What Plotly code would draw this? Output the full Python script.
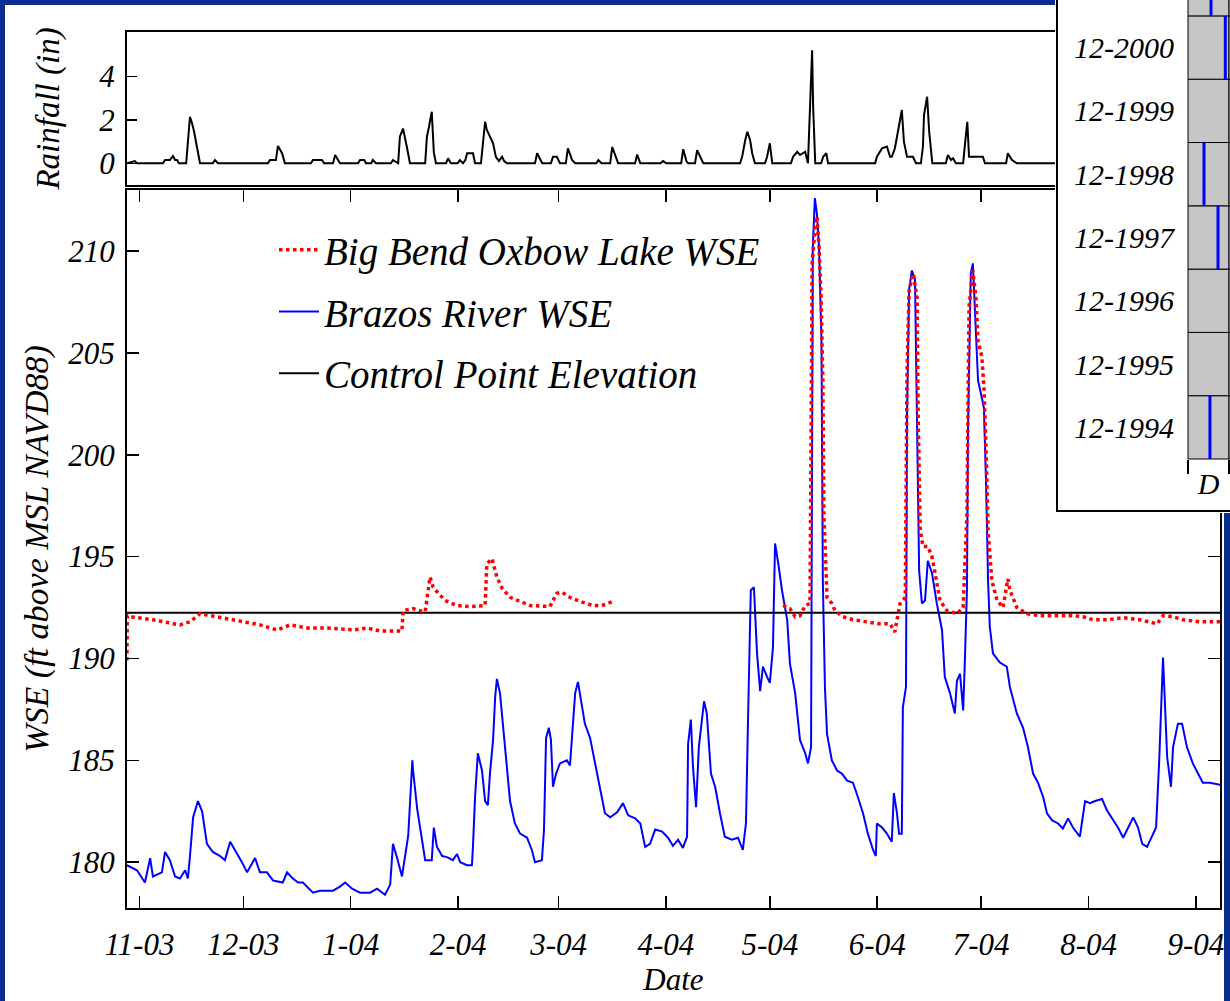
import pandas as pd
import plotly.graph_objects as go

# ---------------- data ----------------
START = pd.Timestamp("2003-11-01")
X_RANGE_DAYS = [-3.58, 311.95]          # visible window, days after START

TICK_DATES = ["2003-11-01", "2003-12-01", "2004-01-01", "2004-02-01", "2004-03-01",
              "2004-04-01", "2004-05-01", "2004-06-01", "2004-07-01", "2004-08-01",
              "2004-09-01"]
TICK_LABELS = ["11-03", "12-03", "1-04", "2-04", "3-04", "4-04", "5-04", "6-04",
               "7-04", "8-04", "9-04"]

BRAZOS_DAY = [-3.6, -0.7, 1.6, 3.1, 3.9, 6.5, 7.4, 8.8, 10.3, 11.7, 13.2, 14.0, 14.6, 15.5,
              16.9, 18.1, 19.5, 21.2, 23.3, 24.7, 26.2, 27.6, 29.6, 31.1, 33.4, 34.8, 36.8,
              38.6, 41.4, 42.6, 44.3, 45.8, 47.2, 50.1, 52.1, 55.9, 57.9, 59.4, 61.4, 63.7,
              66.6, 68.6, 70.9, 72.4, 73.2, 74.4, 75.8, 76.7, 77.6, 78.8, 79.0, 80.2, 81.3,
              82.5, 84.4, 85.0, 85.9, 87.4, 88.8, 90.5, 91.7, 92.6, 94.6, 96.0, 96.3, 96.9,
              97.7, 98.9, 99.8, 100.6, 101.2, 102.1, 102.7, 103.2, 104.1, 105.0, 106.1,
              107.0, 108.4, 109.9, 111.9, 113.3, 114.2, 116.2, 116.8, 117.4, 118.2, 118.8,
              119.4, 120.3, 121.4, 123.4, 124.3, 125.2, 125.8, 126.6, 127.8, 128.6, 130.1,
              131.5, 133.0, 134.4, 135.9, 137.9, 139.6, 141.1, 143.1, 144.6, 146.0, 147.4,
              148.9, 150.9, 152.6, 154.0, 155.5, 156.9, 158.1, 158.4, 159.2, 159.8, 160.7,
              161.5, 163.0, 163.8, 165.0, 166.2, 167.6, 169.0, 171.0, 172.8, 174.2, 175.1,
              175.7, 176.5, 177.4, 178.3, 179.2, 180.0, 181.2, 182.0, 182.9, 183.5, 184.4,
              185.5, 187.0, 187.8, 189.3, 190.7, 192.2, 193.0, 193.9, 194.2, 194.4, 195.0,
              195.6, 196.2, 196.9, 197.3, 197.9, 198.5, 199.1, 199.9, 201.4, 202.8, 204.3,
              206.0, 207.4, 208.9, 210.3, 211.8, 212.6, 212.9, 214.4, 215.8, 217.2, 217.8,
              218.7, 219.3, 220.1, 220.4, 221.3, 221.6, 222.2, 223.0, 223.9, 224.5, 225.1,
              225.9, 226.8, 227.6, 228.8, 230.2, 231.7, 232.5, 234.0, 235.4, 236.0, 236.9,
              237.8, 238.3, 238.9, 239.2, 240.0, 240.6, 241.2, 241.8, 242.1, 243.2, 243.8,
              244.4, 245.0, 245.5, 246.4, 248.4, 250.4, 251.3, 253.3, 255.1, 256.5, 258.0,
              259.4, 260.9, 262.0, 263.5, 265.2, 266.6, 268.1, 269.5, 271.5, 273.0, 274.4,
              275.9, 277.9, 279.3, 281.1, 282.5, 284.0, 285.4, 286.9, 288.3, 289.5, 290.9,
              292.3, 293.5, 294.4, 295.5, 296.1, 296.7, 297.8, 298.4, 299.8, 301.0, 302.4,
              304.1, 305.6, 307.0, 309.0, 311.4, 312.0]
BRAZOS_WSE = [179.85, 179.6, 179.0, 180.2, 179.3, 179.5, 180.5, 180.1, 179.3, 179.2, 179.6,
              179.2, 180.3, 182.2, 183.0, 182.5, 180.9, 180.5, 180.3, 180.1, 181.0, 180.6,
              180.0, 179.5, 180.2, 179.5, 179.5, 179.1, 179.0, 179.5, 179.2, 179.0, 179.0,
              178.5, 178.6, 178.6, 178.8, 179.0, 178.7, 178.5, 178.5, 178.7, 178.4, 178.9,
              180.9, 180.2, 179.3, 180.3, 181.3, 185.0, 184.5, 182.6, 181.5, 180.1, 180.1,
              181.7, 180.75, 180.3, 180.25, 180.1, 180.4, 180.0, 179.85, 179.85, 180.8,
              183.2, 185.35, 184.5, 183.0, 182.8, 184.35, 186.0, 188.1, 189.0, 188.3, 186.6,
              184.85, 183.0, 181.9, 181.4, 181.2, 180.6, 180.0, 180.1, 181.6, 186.1, 186.6,
              186.0, 183.7, 184.35, 184.85, 185.0, 184.75, 186.8, 188.3, 188.85, 187.6,
              186.8, 186.1, 184.85, 183.7, 182.4, 182.2, 182.45, 182.9, 182.3, 182.15,
              181.9, 180.75, 180.9, 181.6, 181.5, 181.2, 180.8, 181.1, 180.7, 181.25, 185.8,
              187.0, 184.7, 182.7, 185.65, 187.9, 187.3, 184.35, 183.7, 182.4, 181.25,
              181.1, 181.2, 180.6, 181.9, 187.0, 193.35, 193.5, 190.25, 188.4, 189.6, 189.1,
              188.8, 190.55, 195.65, 194.7, 193.35, 191.9, 189.75, 188.3, 186.0, 185.35,
              184.85, 185.65, 201.0, 210.2, 212.6, 211.8, 210.2, 205.6, 193.8, 188.6, 186.3,
              185.65, 185.0, 184.5, 184.35, 184.0, 183.9, 183.2, 182.4, 181.4, 180.6, 180.3,
              181.9, 181.7, 181.4, 181.0, 183.4, 182.4, 181.4, 181.4, 187.6, 188.6, 202.0,
              208.1, 209.05, 208.6, 202.3, 194.3, 192.7, 192.85, 194.8, 194.2, 192.7, 191.4,
              189.1, 188.3, 187.3, 188.9, 189.25, 187.45, 189.9, 193.35, 201.2, 208.9,
              209.4, 206.9, 205.3, 203.65, 202.8, 202.3, 198.7, 193.8, 191.55, 190.25,
              189.8, 189.6, 188.6, 187.3, 186.6, 185.65, 184.35, 183.9, 183.2, 182.4, 182.05,
              181.9, 181.65, 182.15, 181.7, 181.25, 183.0, 182.9, 183.0, 183.1, 182.55,
              182.05, 181.7, 181.2, 181.65, 182.2, 181.7, 180.9, 180.75, 181.25, 181.7,
              185.0, 190.05, 187.6, 185.15, 183.7, 185.65, 186.8, 186.8, 185.65, 184.85,
              184.35, 183.9, 183.9, 183.8, 183.8]

OXBOW_DAY = [-3.6, -3.5, -2.7, 3.9, 11.7, 14.6, 17.5, 22.4, 27.0, 31.1, 34.8, 39.7, 43.5,
             48.4, 54.2, 61.7, 65.7, 69.5, 75.8, 76.1, 79.0, 81.9, 82.5, 83.9, 84.8, 86.8,
             88.8, 91.7, 95.4, 99.8, 100.3, 101.8, 102.4, 103.2, 104.7, 107.0, 109.9, 112.8,
             118.5, 120.5, 122.0, 124.3, 127.2, 130.9, 133.5, 136.7, None,
             185.8, 187.8, 189.3, 190.7, 192.2, 193.6, 193.9, 194.2, 195.0, 195.6, 196.2,
             196.8, 197.3, 197.6, 198.5, 199.9, 200.8, 203.1, 206.0, 210.0, 213.8, 216.7,
             218.1, 218.7, 219.6, 221.1, 221.6, 222.2, 223.4, 224.5, 224.8, 225.4, 226.2,
             227.6, 228.8, 229.7, 231.1, 233.1, 236.0, 237.8, 238.9, 239.5, 240.3, 240.6,
             241.5, 242.1, 243.2, 243.8, 244.4, 245.0, 246.1, 247.6, 249.3, 250.7, 251.3,
             253.3, 256.2, 260.0, 264.9, 269.5, 272.4, 275.3, 279.3, 284.0, 288.9, 293.8,
             295.5, 298.4, 301.3, 306.2, 311.4, 312.0]
OXBOW_WSE = [189.9, 192.1, 192.05, 191.9, 191.65, 191.8, 192.2, 192.05, 191.9, 191.8, 191.65,
             191.4, 191.65, 191.5, 191.5, 191.4, 191.5, 191.35, 191.35, 192.35, 192.45,
             192.3, 192.3, 194.0, 193.5, 193.1, 192.8, 192.6, 192.55, 192.6, 194.65, 194.9,
             194.5, 194.0, 193.45, 193.0, 192.8, 192.6, 192.55, 193.2, 193.25, 193.0, 192.8,
             192.6, 192.6, 192.8, None,
             192.6, 192.45, 192.05, 192.1, 192.6, 192.7, 201.0, 209.4, 211.0, 211.7, 210.2,
             207.7, 203.65, 197.1, 193.0, 192.7, 192.35, 192.05, 191.9, 191.8, 191.7, 191.7,
             191.3, 191.9, 192.7, 193.0, 204.15, 208.1, 208.9, 207.7, 202.0, 196.3, 195.5,
             195.5, 195.0, 194.2, 192.85, 192.35, 192.2, 192.5, 197.1, 207.25, 208.9,
             209.05, 207.7, 205.6, 204.8, 203.3, 200.35, 196.3, 193.8, 192.85, 192.5, 193.9,
             193.35, 192.5, 192.2, 192.1, 192.1, 192.1, 192.05, 191.9, 191.9, 192.0, 191.9,
             191.7, 192.1, 192.05, 191.9, 191.8, 191.8, 191.8]

CONTROL_ELEV = 192.25

RAIN_DAY = [-3.6, -1.3, -0.7, 6.8, 7.4, 8.8, 9.7, 10.3, 10.9, 11.4, 13.5, 14.0, 14.6, 15.2,
            15.8, 16.6, 17.5, 21.2, 21.8, 22.7, 37.1, 37.7, 39.4, 40.0, 41.2, 42.0, 49.5,
            50.1, 52.7, 53.3, 55.9, 56.5, 57.3, 57.9, 63.1, 63.7, 64.9, 65.4, 66.9, 67.4,
            68.3, 72.6, 73.2, 74.7, 75.2, 76.1, 77.2, 78.1, 82.5, 83.0, 83.6, 84.4, 85.0,
            85.6, 88.5, 89.1, 89.9, 91.9, 92.5, 93.4, 94.1, 94.6, 96.3, 96.9, 98.6, 99.2,
            99.8, 100.3, 101.2, 102.1, 102.9, 103.8, 104.7, 105.3, 106.1, 114.2, 114.8,
            115.7, 116.3, 118.8, 119.4, 120.5, 121.4, 123.1, 123.7, 124.9, 125.8, 131.9,
            132.5, 133.4, 135.9, 136.5, 137.6, 138.2, 143.1, 143.7, 144.6, 150.4, 151.2,
            152.1, 156.4, 157.0, 157.9, 158.4, 160.4, 161.0, 161.9, 162.8, 173.4, 174.0,
            174.9, 175.5, 176.3, 176.9, 177.7, 180.6, 181.2, 182.0, 182.7, 188.1, 188.7,
            189.9, 190.7, 192.2, 193.0, 193.6, 194.2, 194.5, 195.1, 196.8, 197.4, 198.3,
            198.8, 212.4, 212.9, 214.4, 215.8, 216.7, 217.2, 218.1, 219.3, 220.1, 220.7,
            221.6, 223.3, 224.2, 225.6, 226.2, 226.5, 227.4, 228.0, 228.9, 232.8, 233.4,
            234.3, 234.9, 235.7, 237.8, 238.4, 239.0, 239.5, 243.5, 244.1, 250.2, 250.7,
            251.9, 253.3, 264.9]
RAIN_IN = [0, 0.1, 0, 0, 0.15, 0.15, 0.33, 0.15, 0.15, 0, 0, 1.15, 2.14, 1.84, 1.45, 0.76,
           0, 0, 0.15, 0, 0, 0.15, 0.15, 0.8, 0.45, 0, 0, 0.15, 0.15, 0, 0, 0.38, 0.15, 0,
           0, 0.15, 0.15, 0, 0, 0.15, 0, 0, 0.15, 0, 1.22, 1.6, 0.76, 0, 0, 1.22, 1.68, 2.37,
           0.5, 0, 0, 0.23, 0, 0, 0.15, 0, 0.15, 0.46, 0.46, 0, 0, 0.92, 1.91, 1.53, 1.22,
           0.92, 0.3, 0.1, 0.3, 0.1, 0, 0, 0.46, 0.15, 0, 0, 0.3, 0.3, 0, 0, 0.69, 0.15, 0,
           0, 0.15, 0, 0, 0.75, 0.2, 0, 0, 0.4, 0, 0, 0.1, 0, 0, 0.65, 0.1, 0, 0, 0.6, 0.3,
           0, 0, 0.3, 1.07, 1.45, 1.07, 0.46, 0, 0, 0.3, 0.92, 0, 0, 0.3, 0.53, 0.38, 0.53,
           0, 2.6, 5.2, 2.6, 0, 0, 0.3, 0.46, 0, 0, 0.3, 0.69, 0.77, 0.3, 0.3, 0.69, 1.68,
           2.45, 1.0, 0.3, 0.3, 0, 0, 0.77, 2.22, 3.06, 1.45, 0, 0, 0.38, 0.15, 0.23, 0, 0,
           1.0, 1.91, 0.3, 0.3, 0, 0, 0.46, 0.15, 0, 0]

# inset (December column of the multi-year panel)
INSET_ROWS = ["12-1994", "12-1995", "12-1996", "12-1997", "12-1998", "12-1999",
              "12-2000", "12-2001"]
INSET_EVENT_DAY = [16.6, None, None, 22.7, 12.1, None, 28.2, 17.4]
INSET_COLUMN = "D"
INSET_MONTH_DAYS = 31

# ---------------- helpers ----------------
W, H = 1230, 1001
ML, MR, MT, MB = 127, 0, 0, 93
PW, PH = W - ML - MR, H - MT - MB
FONT = "Liberation Serif"


def fx(px):
    return (px - ML) / PW


def fy(py):
    return (PH + MT - py) / PH


def to_dates(days):
    return [None if d is None else START + pd.Timedelta(days=d) for d in days]


def F(size):
    return dict(family=FONT, size=size, style="italic", color="black")


x_range = to_dates(X_RANGE_DAYS)

fig = go.Figure()

fig.add_trace(go.Scatter(
    x=to_dates(BRAZOS_DAY), y=BRAZOS_WSE, mode="lines", name="Brazos River WSE",
    line=dict(color="#0000ff", width=2), legendgroup="b", legendrank=2,
    xaxis="x", yaxis="y"))
fig.add_trace(go.Scatter(
    x=x_range, y=[CONTROL_ELEV, CONTROL_ELEV], mode="lines", name="Control Point Elevation",
    line=dict(color="black", width=2), legendgroup="c", legendrank=3,
    xaxis="x", yaxis="y"))
fig.add_trace(go.Scatter(
    x=to_dates(OXBOW_DAY), y=OXBOW_WSE, mode="lines", name="Big Bend Oxbow Lake WSE",
    line=dict(color="#ff0000", width=3.5, dash="dot"), legendgroup="a", legendrank=1,
    connectgaps=False, xaxis="x", yaxis="y"))

fig.add_trace(go.Scatter(
    x=to_dates(RAIN_DAY), y=RAIN_IN, mode="lines", showlegend=False,
    line=dict(color="black", width=2), xaxis="x2", yaxis="y2"))

# inset
rows = list(range(len(INSET_ROWS)))
fig.add_trace(go.Bar(
    x=[INSET_MONTH_DAYS / 2] * len(rows), y=[1] * len(rows), base=rows,
    width=INSET_MONTH_DAYS, marker=dict(color="#c6c6c6", line=dict(color="black", width=1)),
    showlegend=False, hoverinfo="skip", xaxis="x3", yaxis="y3"))
# next month's column, partly visible at the right edge
fig.add_trace(go.Bar(
    x=[INSET_MONTH_DAYS * 1.5] * len(rows), y=[1] * len(rows), base=rows,
    width=INSET_MONTH_DAYS, marker=dict(color="#c6c6c6", line=dict(color="black", width=1)),
    showlegend=False, hoverinfo="skip", xaxis="x3", yaxis="y3"))
ev_x, ev_y = [], []
for r, d in zip(rows, INSET_EVENT_DAY):
    if d is None:
        continue
    ev_x += [d, d, None]
    ev_y += [r, r + 1, None]
fig.add_trace(go.Scatter(
    x=ev_x, y=ev_y, mode="lines", showlegend=False, line=dict(color="#0000ff", width=3),
    xaxis="x3", yaxis="y3"))

# inset scales: column D spans px 1188..1229, rows 63.3 px with bottom at px 459
col_px = (1229 - 1188) / INSET_MONTH_DAYS
row_px = 63.3
x3_range = [(1055 - 1188) / col_px, (1230 - 1188) / col_px]
y3_range = [-(513 - 459) / row_px, 459 / row_px]

axis_common = dict(showgrid=False, zeroline=False, showline=True, linecolor="black",
                   linewidth=2)

fig.update_layout(
    width=W, height=H,
    margin=dict(l=ML, r=MR, t=MT, b=MB, autoexpand=False),
    paper_bgcolor="#0b2e8e", plot_bgcolor="white",
    font=F(31),
    showlegend=True,
    barmode="overlay",
    legend=dict(x=fx(274), y=fy(218), xanchor="left", yanchor="top",
                bgcolor="rgba(0,0,0,0)", font=F(39), itemwidth=40,
                traceorder="grouped", tracegroupgap=8),
    xaxis=dict(**axis_common, domain=[0, fx(1220)], type="date", range=x_range,
               tickvals=TICK_DATES, ticktext=TICK_LABELS, ticks="inside", ticklen=12,
               tickwidth=1.5, tickcolor="black", mirror="ticks", tickfont=F(31),
               ticklabelstandoff=8, automargin=False,
               title=dict(text="Date", font=F(31), standoff=4), anchor="y"),
    yaxis=dict(**axis_common, domain=[0, fy(190)], range=[177.75, 213.0], tick0=180,
               dtick=5, ticks="inside", ticklen=12, tickwidth=1.5, tickcolor="black",
               mirror="ticks", tickfont=F(31), automargin=False, ticklabelstandoff=4,
               title=dict(text="WSE (ft above MSL NAVD88)", font=F(34), standoff=9),
               anchor="x"),
    xaxis2=dict(**axis_common, domain=[0, fx(1220)], matches="x", showticklabels=False,
                ticks="", mirror=True, anchor="y2", automargin=False),
    yaxis2=dict(**axis_common, domain=[fy(185), fy(32)], range=[-1.0, 6.04],
                tickvals=[0, 2, 4], ticks="inside", ticklen=10, tickwidth=1.5,
                tickcolor="black", mirror=True, tickfont=F(31), automargin=False,
                ticklabelstandoff=4,
                title=dict(text="Rainfall (in)", font=F(33), standoff=30), anchor="x2"),
    xaxis3=dict(domain=[fx(1055), 1], range=x3_range, showgrid=False, zeroline=False,
                showline=False, anchor="free", position=fy(459),
                tickvals=[INSET_MONTH_DAYS / 2], ticktext=[INSET_COLUMN], ticks="",
                tickfont=F(30), ticklabelstandoff=4, automargin=False,
                minor=dict(tickvals=[0, INSET_MONTH_DAYS], ticks="outside", ticklen=14,
                           tickcolor="black", tickwidth=1.5)),
    yaxis3=dict(domain=[fy(513), 1], range=y3_range, showgrid=False, zeroline=False,
                showline=False, anchor="free", position=fx(1188), side="left",
                tickvals=[r + 0.5 for r in rows], ticktext=INSET_ROWS, ticks="",
                tickfont=F(30), ticklabelstandoff=14, automargin=False),
    shapes=[
        # white page panel inside the navy frame
        dict(type="rect", xref="paper", yref="paper", x0=fx(5), x1=fx(1224),
             y0=fy(1010), y1=fy(5), fillcolor="white", line=dict(width=0), layer="below"),
        # inset panel (drawn in the inset subplot so it covers the main frame)
        dict(type="rect", xref="x3", yref="y3", x0=(1057 - 1188) / col_px, x1=40,
             y0=-(511 - 459) / row_px, y1=9, fillcolor="white",
             line=dict(color="black", width=2), layer="below"),
    ],
)

fig.write_html("out.html",
               config={"displayModeBar": False, "staticPlot": True},
               post_script="document.body.style.margin='0px';"
                           "document.body.style.overflow='hidden';")
